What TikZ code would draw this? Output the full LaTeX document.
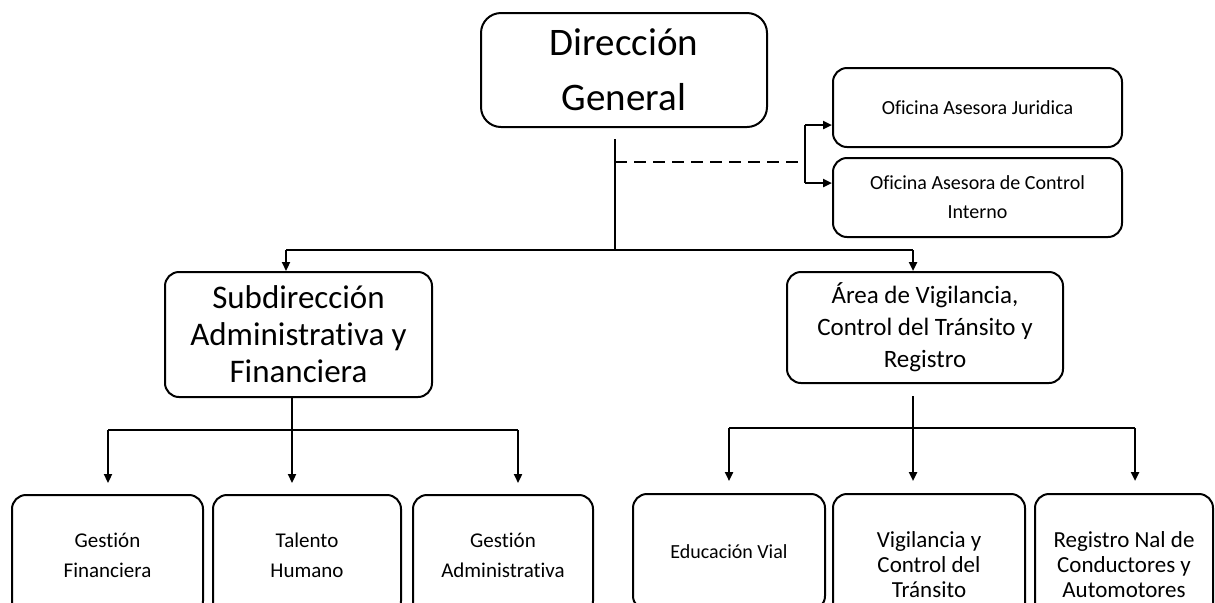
\documentclass[tikz,border=0pt]{standalone}
\usepackage{fontspec}
\setmainfont{Carlito}[Ligatures=NoCommon]
\usetikzlibrary{positioning,arrows.meta}

\begin{document}
\begin{tikzpicture}[x=0.5pt,y=-0.5pt,
    line width=1.1pt,node distance=45pt,on grid,
    >={Triangle[length=4.5pt,width=4pt]},
    unit/.style={rectangle,draw,line width=1pt,rounded corners=7pt,align=center,inner sep=0pt},
    leaf/.style={unit,anchor=north,minimum height=60pt,font={\fontsize{10.5pt}{15pt}\selectfont}},
    tall/.style={leaf,minimum height=71pt,font={\fontsize{11.5pt}{12.5pt}\selectfont}},
    link/.style={->,shorten >=5.5pt}]
%% Draw organisation chart
\useasboundingbox (0,0) rectangle (1215,602);
\clip (0,0) rectangle (1215,602);

\node [unit,minimum width=143pt,minimum height=57pt,rounded corners=10pt,
       font={\fontsize{19.5pt}{27.5pt}\selectfont}] (dg) at (624,70) {Dirección\\General};
\node [unit,minimum width=144.5pt,minimum height=39.5pt,font={\fontsize{10pt}{14.5pt}\selectfont}]
       (oaj) at (977.5,107.5) {Oficina Asesora Juridica};
\node [unit,minimum width=144.5pt,minimum height=39.5pt,font={\fontsize{10pt}{14.5pt}\selectfont}]
       (oac) [below=of oaj] {Oficina Asesora de Control\\Interno};
\node [unit,minimum width=133.5pt,minimum height=62.5pt,font={\fontsize{16.5pt}{18.5pt}\selectfont}]
       (saf) at (298.5,334.5) {Subdirección\\Administrativa y\\Financiera};
\node [unit,minimum width=138pt,minimum height=55.5pt,font={\fontsize{12.5pt}{16pt}\selectfont}]
       (avc) at (925,327.5) {Área de Vigilancia,\\Control del Tránsito y\\Registro};

\node [leaf,minimum width=95.5pt] (gfin) at (107.5,494) {Gestión\\Financiera};
\node [leaf,minimum width=94pt]   (tal)  at (307,494)   {Talento\\Humano};
\node [leaf,minimum width=90pt]   (gadm) at (503,494)   {Gestión\\Administrativa};
\node [leaf,minimum width=96pt,minimum height=58pt,font={\fontsize{10pt}{15pt}\selectfont}]
       (edu) at (729,493) {Educación Vial};
\node [tall,minimum width=96pt]   (vig)  at (929,493)   {Vigilancia y\\Control del\\Tránsito};
\node [tall,minimum width=89pt]   (reg)  at (1124,493)  {Registro Nal de\\Conductores y\\Automotores};

\coordinate (top)  at (615,250);
\coordinate (topl) at (286,250);
\coordinate (topr) at (913,250);
\coordinate (dash) at (615,162);
\coordinate (brk)  at (805,162);
\coordinate (brk1) at (805,125);
\coordinate (brk2) at (805,183);
\coordinate (sj)   at (292,430);
\coordinate (sl)   at (108,430);
\coordinate (sr)   at (518,430);
\coordinate (aj)   at (913,428);
\coordinate (al)   at (729,428);
\coordinate (ar)   at (1135,428);

\draw ([yshift=-5.5pt]dg.south -| top) -- (top);
\draw (topl) -- (topr);
\draw [->] (topl) -- (topl |- saf.north);
\draw [->] (topr) -- (topr |- avc.north);
\draw [dash pattern=on 6pt off 3.5pt] (dash) -- (brk);
\draw (brk1) -- (brk2);
\draw [->] (brk1) -- (brk1 -| oaj.west);
\draw [->] (brk2) -- (brk2 -| oac.west);

\draw (saf.south -| sj) -- (sj);
\draw (sl) -- (sr);
\draw [link] (sl) -- (sl |- gfin.north);
\draw [link] (sj) -- (sj |- tal.north);
\draw [link] (sr) -- (sr |- gadm.north);

\draw ([yshift=-6pt]avc.south -| aj) -- (aj);
\draw (al) -- (ar);
\draw [link,shorten >=6pt] (al) -- (al |- edu.north);
\draw [link,shorten >=6pt] (aj) -- (aj |- vig.north);
\draw [link,shorten >=6pt] (ar) -- (ar |- reg.north);
\end{tikzpicture}
\end{document}
